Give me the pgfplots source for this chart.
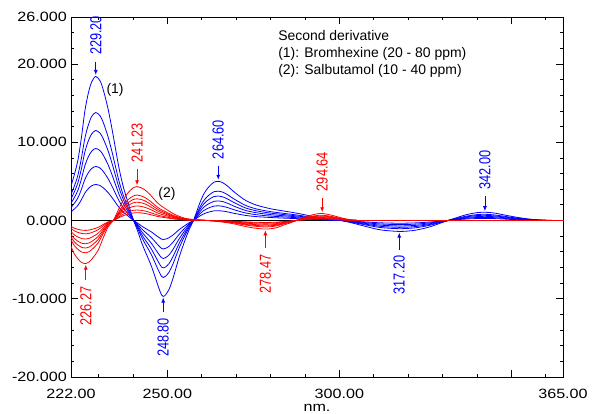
\documentclass[border=0pt]{standalone}
\usepackage{fontspec}
\setmainfont{Liberation Sans}
\newfontfamily\tickfont[FakeStretch=1.2]{Liberation Sans}
\newfontfamily\peakfont[FakeStretch=0.8]{Liberation Sans}
\usepackage{pgfplots}
\usepackage{pgfplotstable}
\pgfplotsset{compat=1.18}
\usetikzlibrary{arrows.meta}

% Bromhexine, second derivative (20, 30, 40, 50, 60, 80 ppm)
\pgfplotstableread{
x     b80   b60   b50   b40   b30   b20
222   4.4   3.3   2.75  2.2   1.65  1.1
223   5.9   4.43  3.69  2.95  2.21  1.48
224   7.7   5.78  4.81  3.85  2.89  1.93
225   10.5  7.88  6.56  5.25  3.94  2.63
226   13.9  10.43 8.69  6.95  5.21  3.48
227   16.2  12.15 10.13 8.1   6.08  4.05
228   17.7  13.28 11.06 8.85  6.64  4.43
229.2 18.4  13.8  11.5  9.2   6.9   4.6
230.5 17.8  13.35 11.13 8.9   6.68  4.45
231.5 16.5  12.38 10.31 8.25  6.19  4.13
232.8 14.2  10.65 8.88  7.1   5.33  3.55
234   11.5  8.63  7.19  5.75  4.31  2.88
234.8 9.5   7.13  5.94  4.75  3.56  2.38
236   6.6   4.95  4.13  3.3   2.48  1.65
237.2 4.3   3.23  2.69  2.15  1.61  1.08
238.5 2.4   1.8   1.5   1.2   0.9   0.6
239.6 0.8   0.6   0.5   0.4   0.3   0.2
240.2 0     0     0     0     0     0
241.5 -1.5  -1.13 -0.94 -0.75 -0.56 -0.38
242.5 -2.8  -2.1  -1.75 -1.4  -1.05 -0.7
243.5 -3.9  -2.93 -2.44 -1.95 -1.46 -0.98
244.5 -4.9  -3.68 -3.06 -2.45 -1.84 -1.23
245.5 -6.0  -4.5  -3.75 -3.0  -2.25 -1.5
246.5 -7.3  -5.48 -4.56 -3.65 -2.74 -1.83
247.5 -8.6  -6.45 -5.38 -4.3  -3.23 -2.15
248.3 -9.5  -7.13 -5.94 -4.75 -3.56 -2.38
248.8 -9.7  -7.28 -6.06 -4.85 -3.64 -2.43
249.5 -9.5  -7.13 -5.94 -4.75 -3.56 -2.38
250.5 -8.8  -6.6  -5.5  -4.4  -3.3  -2.2
251.5 -7.6  -5.7  -4.75 -3.8  -2.85 -1.9
252.5 -6.1  -4.58 -3.81 -3.05 -2.29 -1.53
253.5 -4.6  -3.45 -2.88 -2.3  -1.73 -1.15
254.5 -3.3  -2.48 -2.06 -1.65 -1.24 -0.83
255.5 -2.1  -1.58 -1.31 -1.05 -0.79 -0.53
256.5 -1.0  -0.75 -0.63 -0.5  -0.38 -0.25
257.6 0     0     0     0     0     0
258.5 1.1   0.83  0.69  0.55  0.41  0.28
259.5 2.3   1.73  1.44  1.15  0.86  0.58
260.5 3.3   2.48  2.06  1.65  1.24  0.83
261.5 4.0   3.0   2.5   2.0   1.5   1.0
262.5 4.5   3.38  2.81  2.25  1.69  1.13
263.6 4.9   3.68  3.06  2.45  1.84  1.23
264.8 5.0   3.75  3.13  2.5   1.88  1.25
266   4.85  3.64  3.03  2.43  1.82  1.21
267.5 4.4   3.3   2.75  2.2   1.65  1.1
269   3.8   2.85  2.38  1.9   1.43  0.95
271   3.1   2.33  1.94  1.55  1.16  0.78
273   2.5   1.88  1.56  1.25  0.94  0.63
276   1.95  1.46  1.22  0.98  0.73  0.49
280   1.5   1.13  0.94  0.75  0.56  0.38
284   1.2   0.9   0.75  0.6   0.45  0.3
288   0.9   0.68  0.56  0.45  0.34  0.23
292   0.55  0.41  0.34  0.28  0.21  0.14
296   0.25  0.19  0.16  0.13  0.09  0.06
300.5 0     0     0     0     0     0
304   -0.35 -0.26 -0.22 -0.18 -0.13 -0.09
308   -0.8  -0.6  -0.5  -0.4  -0.3  -0.2
312   -1.2  -0.9  -0.75 -0.6  -0.45 -0.3
317.4 -1.4  -1.05 -0.88 -0.7  -0.53 -0.35
322   -1.25 -0.94 -0.78 -0.63 -0.47 -0.31
326   -0.85 -0.64 -0.53 -0.43 -0.32 -0.21
329   -0.4  -0.3  -0.25 -0.2  -0.15 -0.1
331.6 0     0     0     0     0     0
334   0.35  0.26  0.22  0.18  0.13  0.09
337   0.75  0.56  0.47  0.38  0.28  0.19
340   1.0   0.75  0.63  0.5   0.38  0.25
342.3 1.05  0.79  0.66  0.53  0.39  0.26
345   0.95  0.71  0.59  0.48  0.36  0.24
348   0.7   0.53  0.44  0.35  0.26  0.18
351   0.45  0.34  0.28  0.23  0.17  0.11
354   0.25  0.19  0.16  0.13  0.09  0.06
357   0.1   0.08  0.06  0.05  0.04  0.03
360   0.02  0.02  0.01  0.01  0.01  0.01
365   0     0     0     0     0     0
}\bromhexine

% Salbutamol, second derivative (10 - 40 ppm)
\pgfplotstableread{
x     r40   r35   r30   r25   r20   r15   r10
222   -3.3  -2.48 -2.11 -1.78 -1.42 -1.02 -0.76
223   -4.3  -3.23 -2.75 -2.32 -1.85 -1.33 -0.99
224.2 -5.0  -3.75 -3.2  -2.7  -2.15 -1.55 -1.15
225.2 -5.4  -4.05 -3.46 -2.92 -2.32 -1.67 -1.24
226.3 -5.5  -4.13 -3.52 -2.97 -2.37 -1.71 -1.27
227.3 -5.3  -3.98 -3.39 -2.86 -2.28 -1.64 -1.22
228.5 -4.7  -3.53 -3.01 -2.54 -2.02 -1.46 -1.08
229.9 -3.8  -2.85 -2.43 -2.05 -1.63 -1.18 -0.87
231.3 -2.3  -1.73 -1.47 -1.24 -0.99 -0.71 -0.53
232.8 -0.8  -0.6  -0.51 -0.43 -0.34 -0.25 -0.18
234.3 0     0     0     0     0     0     0
235.5 1.1   0.83  0.7   0.59  0.47  0.34  0.25
236.7 2.2   1.65  1.41  1.19  0.95  0.68  0.51
237.7 3.0   2.25  1.92  1.62  1.29  0.93  0.69
238.7 3.6   2.7   2.3   1.94  1.55  1.12  0.83
240   4.15  3.11  2.66  2.24  1.78  1.29  0.95
241.2 4.33  3.25  2.77  2.34  1.86  1.34  1.0
242.3 4.2   3.15  2.69  2.27  1.81  1.3   0.97
243.5 3.9   2.93  2.5   2.11  1.68  1.21  0.9
245   3.3   2.48  2.11  1.78  1.42  1.02  0.76
246.4 2.6   1.95  1.66  1.4   1.12  0.81  0.6
247.8 2.0   1.5   1.28  1.08  0.86  0.62  0.46
249.3 1.55  1.16  0.99  0.84  0.67  0.48  0.36
251.2 1.0   0.75  0.64  0.54  0.43  0.31  0.23
253.2 0.57  0.43  0.36  0.31  0.25  0.18  0.13
255   0.3   0.23  0.19  0.16  0.13  0.09  0.07
257   0.15  0.11  0.1   0.08  0.06  0.05  0.03
260   0.05  0.04  0.03  0.03  0.02  0.02  0.01
263   -0.05 -0.04 -0.03 -0.03 -0.02 -0.02 -0.01
266   -0.2  -0.15 -0.13 -0.11 -0.09 -0.06 -0.05
269   -0.4  -0.3  -0.26 -0.22 -0.17 -0.12 -0.09
272   -0.7  -0.53 -0.45 -0.38 -0.3  -0.22 -0.16
275   -0.95 -0.71 -0.61 -0.51 -0.41 -0.29 -0.22
278.5 -1.1  -0.83 -0.7  -0.59 -0.47 -0.34 -0.25
281.5 -0.95 -0.71 -0.61 -0.51 -0.41 -0.29 -0.22
284   -0.55 -0.41 -0.35 -0.3  -0.24 -0.17 -0.13
285.5 -0.35 -0.26 -0.22 -0.19 -0.15 -0.11 -0.08
287.5 0     0     0     0     0     0     0
289.5 0.35  0.26  0.22  0.19  0.15  0.11  0.08
291.5 0.65  0.49  0.42  0.35  0.28  0.2   0.15
294.6 0.9   0.68  0.58  0.49  0.39  0.28  0.21
297.5 0.7   0.53  0.45  0.38  0.3   0.22  0.16
300   0.4   0.3   0.26  0.22  0.17  0.12  0.09
302.5 0.15  0.11  0.1   0.08  0.06  0.05  0.03
305   0.02  0.02  0.01  0.01  0.01  0.01  0
310   0     0     0     0     0     0     0
365   0     0     0     0     0     0     0
}\salbutamol

\begin{document}
\begin{tikzpicture}
\path[use as bounding box] (-71bp,-37bp) rectangle (522bp,377bp);
\begin{axis}[
  at={(0,0)}, anchor=south west,
  scale only axis, width=492bp, height=360bp,
  xmin=222, xmax=365, ymin=-20, ymax=26,
  axis line style={line width=0.8bp},
  tick style={black, line width=0.7bp},
  major tick length=7bp, minor tick length=3.5bp,
  tick align=inside, xtick pos=both, ytick pos=both,
  xtick={222,250,300,350,365},
  xticklabels={222.00,250.00,300.00,,365.00},
  minor xtick={230,240,260,270,280,290,310,320,330,340,360},
  ytick={-20,-10,0,10,20,26},
  yticklabels={-20.000,-10.000,0.000,10.000,20.000,26.000},
  minor ytick={-18,-16,-14,-12,-8,-6,-4,-2,2,4,6,8,12,14,16,18,22,24},
  xticklabel style={font=\tickfont\fontsize{13.5}{16}\selectfont, anchor=north, inner sep=0pt, yshift=-12bp},
  yticklabel style={font=\tickfont\fontsize{13.5}{16}\selectfont, anchor=east, inner sep=0pt, xshift=-4bp},
  xlabel={nm.},
  xlabel style={font=\tickfont\fontsize{13.5}{16}\selectfont, at={(axis description cs:0.5,0)}, anchor=north, inner sep=0pt, yshift=-27bp},
  every axis plot/.append style={line width=0.8bp, smooth},
]
\addplot[black, sharp plot] coordinates {(222,0) (365,0)};
\addplot[blue] table[x=x, y=b20] {\bromhexine};
\addplot[blue] table[x=x, y=b30] {\bromhexine};
\addplot[blue] table[x=x, y=b40] {\bromhexine};
\addplot[blue] table[x=x, y=b50] {\bromhexine};
\addplot[blue] table[x=x, y=b60] {\bromhexine};
\addplot[blue] table[x=x, y=b80] {\bromhexine};
\addplot[red] table[x=x, y=r10] {\salbutamol};
\addplot[red] table[x=x, y=r15] {\salbutamol};
\addplot[red] table[x=x, y=r20] {\salbutamol};
\addplot[red] table[x=x, y=r25] {\salbutamol};
\addplot[red] table[x=x, y=r30] {\salbutamol};
\addplot[red] table[x=x, y=r35] {\salbutamol};
\addplot[red] table[x=x, y=r40] {\salbutamol};

% peak markers
\begin{scope}[line width=0.8bp, -{Latex[length=5bp,width=4bp]},
  every node/.style={font=\peakfont\fontsize{16}{16}\selectfont, rotate=90, inner sep=0pt}]
\draw[blue] (axis cs:229.2,20.3) -- (axis cs:229.2,18.6);
\node[blue, anchor=west] at (axis cs:229.2,21.1) {229.20};
\draw[red] (axis cs:241.2,6.6) -- (axis cs:241.2,4.5);
\node[red, anchor=west] at (axis cs:241.2,7.4) {241.23};
\draw[blue] (axis cs:264.8,6.9) -- (axis cs:264.8,5.2);
\node[blue, anchor=west] at (axis cs:264.8,7.8) {264.60};
\draw[red] (axis cs:295.0,2.9) -- (axis cs:295.0,1.05);
\node[red, anchor=west] at (axis cs:295.0,3.7) {294.64};
\draw[blue] (axis cs:342.3,3.1) -- (axis cs:342.3,1.2);
\node[blue, anchor=west] at (axis cs:342.3,3.9) {342.00};
\draw[red] (axis cs:226.3,-7.6) -- (axis cs:226.3,-5.65);
\node[red, anchor=east] at (axis cs:226.3,-8.4) {226.27};
\draw[blue] (axis cs:248.8,-11.7) -- (axis cs:248.8,-9.85);
\node[blue, anchor=east] at (axis cs:248.8,-12.4) {248.80};
\draw[red] (axis cs:278.5,-3.5) -- (axis cs:278.5,-1.25);
\node[red, anchor=east] at (axis cs:278.5,-4.3) {278.47};
\draw[blue] (axis cs:317.4,-3.8) -- (axis cs:317.4,-1.55);
\node[blue, anchor=east] at (axis cs:317.4,-4.4) {317.20};
\end{scope}

\begin{scope}[every node/.style={font=\fontsize{14}{17}\selectfont, inner sep=0pt}]
\node at (axis cs:234.8,16.7) {(1)};
\node at (axis cs:249.9,3.4) {(2)};
\node[anchor=base west] at (axis cs:282.2,23.0) {Second derivative};
\node[anchor=base west] at (axis cs:282.2,20.85) {(1): Bromhexine (20 - 80 ppm)};
\node[anchor=base west] at (axis cs:282.2,18.7) {(2): Salbutamol (10 - 40 ppm)};
\end{scope}
\end{axis}
\end{tikzpicture}
\end{document}
